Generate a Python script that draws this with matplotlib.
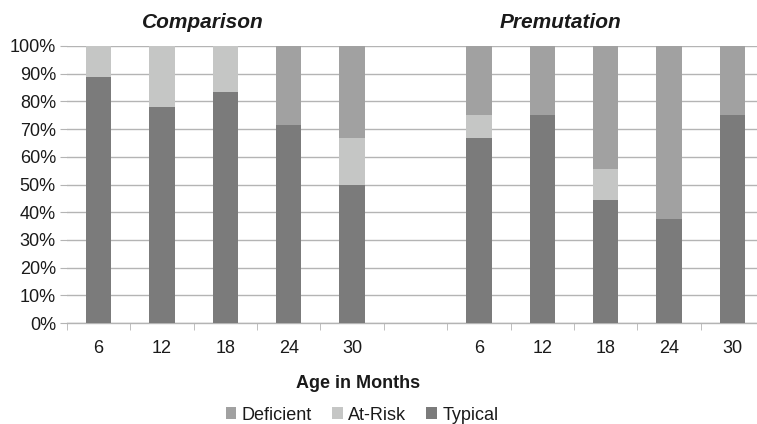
import matplotlib
matplotlib.use("Agg")
import matplotlib.pyplot as plt
import numpy as np

plt.rcParams['font.family'] = ['Liberation Sans', 'DejaVu Sans']

groups = ["Comparison", "Premutation"]
ages = ["6", "12", "18", "24", "30"]
series = ["Deficient", "At-Risk", "Typical"]

comp_typical = [88.9, 77.8, 83.3, 71.4, 50.0]
comp_atrisk = [11.1, 22.2, 16.7, 0.0, 16.7]
comp_deficient = [0.0, 0.0, 0.0, 28.6, 33.3]

prem_typical = [66.7, 75.0, 44.4, 37.5, 75.0]
prem_atrisk = [8.3, 0.0, 11.1, 0.0, 0.0]
prem_deficient = [25.0, 25.0, 44.4, 62.5, 25.0]

colors = {"Typical": "#7b7b7b", "At-Risk": "#c5c6c5", "Deficient": "#a1a1a1"}

W, H = 757, 424
fig = plt.figure(figsize=(W / 100, H / 100), dpi=100)

x0, x1 = 67, 764
y0, y1 = 323, 46
ax = fig.add_axes([x0 / W, (H - y0) / H, (x1 - x0) / W, (y0 - y1) / H])

pos = list(range(5)) + list(range(6, 11))
typ = np.array(comp_typical + prem_typical)
atr = np.array(comp_atrisk + prem_atrisk)
dfc = np.array(comp_deficient + prem_deficient)

bw = 0.4
ax.bar(pos, typ, bw, color=colors["Typical"], label="Typical", zorder=3)
ax.bar(pos, atr, bw, bottom=typ, color=colors["At-Risk"], label="At-Risk", zorder=3)
ax.bar(pos, dfc, bw, bottom=typ + atr, color=colors["Deficient"], label="Deficient", zorder=3)

ax.set_xlim(-0.5, 10.5)
ax.set_ylim(0, 100)
ax.set_yticks(np.arange(0, 101, 10))
ax.set_yticklabels([f"{v}%" for v in range(0, 101, 10)])
ax.yaxis.grid(True, color="#b4b4b4", linewidth=1.0, zorder=0)
ax.tick_params(axis="y", length=5, color="#b4b4b4", labelsize=13, pad=3, labelcolor="#1a1a1a")

ax.set_xticks(pos)
ax.set_xticklabels(ages + ages)
ax.set_xticks(np.arange(-0.5, 10.6, 1.0), minor=True)
ax.tick_params(axis="x", which="major", length=0, labelsize=13, pad=12, labelcolor="#1a1a1a")
ax.tick_params(axis="x", which="minor", length=5, color="#b4b4b4")

for s in ["top", "right", "left"]:
    ax.spines[s].set_visible(False)
ax.spines["bottom"].set_color("#b4b4b4")
ax.spines["bottom"].set_linewidth(1.0)

fig.text(203 / W, 1 - 22 / H, groups[0], ha="center", va="center",
         fontsize=15, fontweight="bold", style="italic", color="#1a1a1a")
fig.text(561 / W, 1 - 22 / H, groups[1], ha="center", va="center",
         fontsize=15, fontweight="bold", style="italic", color="#1a1a1a")

fig.text(358 / W, 1 - 383 / H, "Age in Months", ha="center", va="center",
         fontsize=13, fontweight="bold", color="#1a1a1a")

handles, labels = ax.get_legend_handles_labels()
order = [2, 1, 0]
leg = fig.legend([handles[i] for i in order], [labels[i] for i in order],
                 loc="center", bbox_to_anchor=(362 / W, 1 - 415 / H), ncol=3,
                 frameon=False, fontsize=13, handlelength=0.6, handleheight=0.6,
                 handletextpad=0.3, columnspacing=1.1, labelcolor="#1a1a1a")

fig.savefig("out.png", dpi=100)
